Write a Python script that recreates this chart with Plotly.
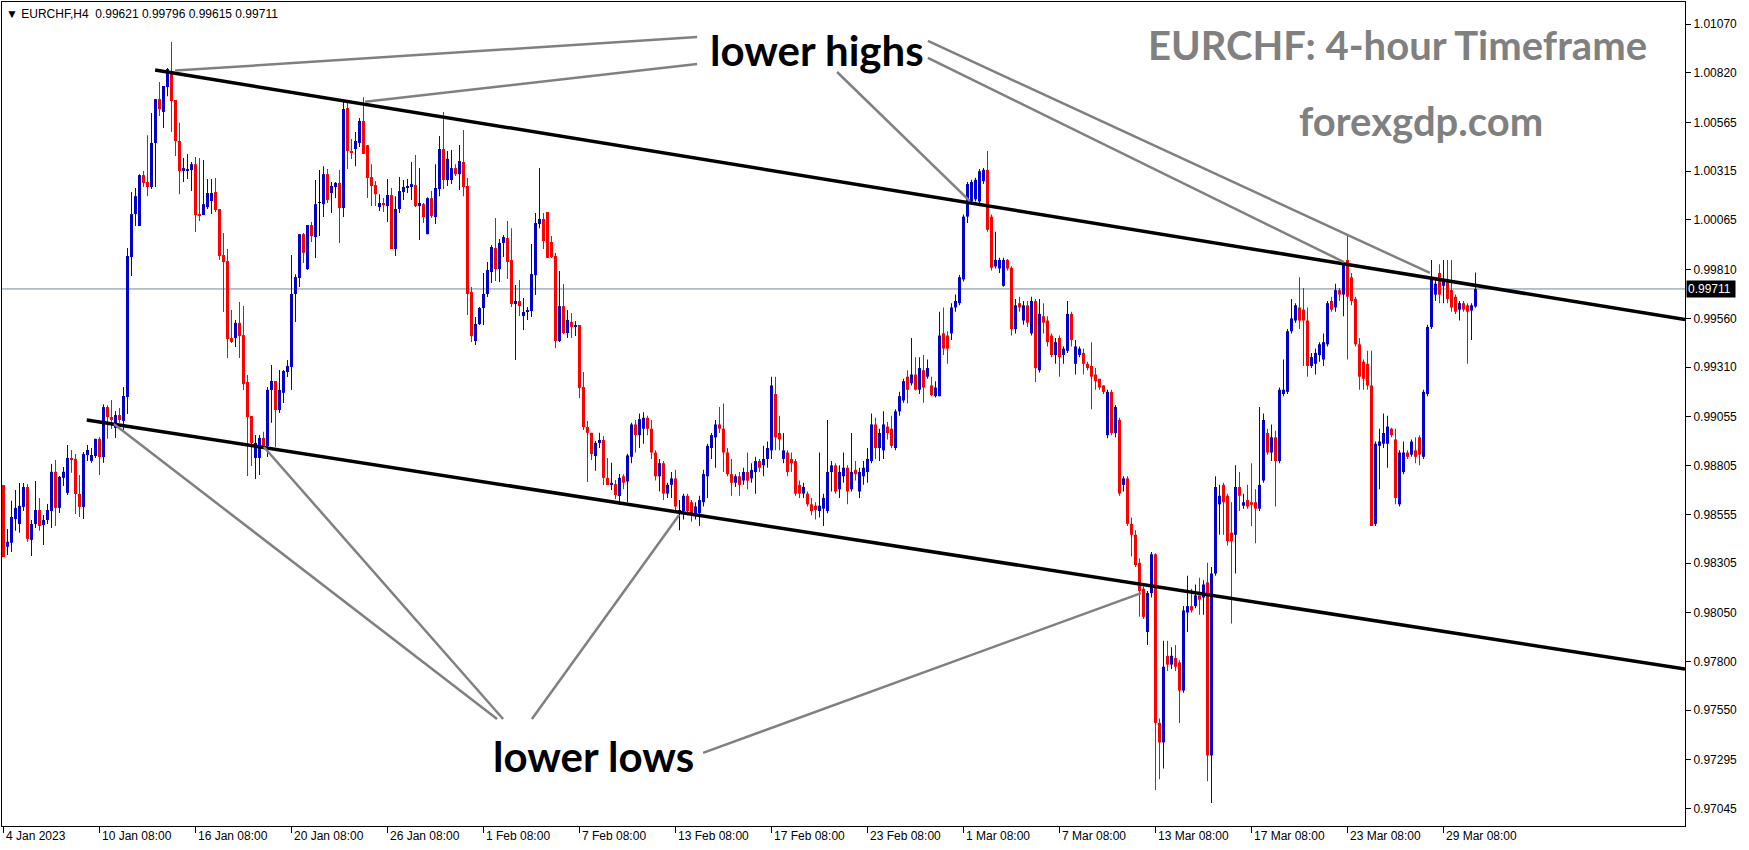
import plotly.graph_objects as go
import pandas as pd

# ---------------- data (EURCHF H4) ----------------
opens = [0.98705,0.98388,0.98409,0.98531,0.98505,0.98593,0.98695,0.98424,0.98505,0.98577,
0.98500,0.98526,0.98572,0.98773,0.98588,0.98742,0.98665,0.98844,0.98839,0.98659,
0.98593,0.98859,0.98829,0.98854,0.98942,0.98849,0.99105,0.99054,0.98998,0.99064,
0.99034,0.99157,0.99875,1.00095,1.00034,1.00295,1.00260,1.00234,1.00460,1.00685,
1.00619,1.00747,1.00819,1.00680,1.00470,1.00316,1.00321,1.00321,1.00351,1.00095,
1.00090,1.00131,1.00162,1.00208,1.00121,0.99885,0.99854,0.99459,0.99459,0.99537,
0.99474,0.99234,0.99059,0.98844,0.98844,0.98947,0.98905,0.99193,0.99239,0.99090,
0.99178,0.99285,0.99311,0.99685,0.99767,0.99992,0.99813,1.00039,0.99977,1.00152,
1.00146,1.00300,1.00203,1.00234,1.00255,1.00126,1.00639,1.00419,1.00429,1.00460,
1.00573,1.00449,1.00285,1.00244,1.00131,1.00152,1.00136,1.00193,0.99916,1.00121,
1.00208,1.00229,1.00234,1.00244,1.00136,1.00146,0.99992,1.00177,1.00080,1.00224,
1.00429,1.00270,1.00270,1.00331,1.00300,1.00362,1.00239,0.99696,0.99444,0.99531,
0.99613,0.99685,0.99798,0.99921,0.99813,0.99947,0.99972,0.99859,0.99634,0.99649,
0.99572,0.99593,0.99598,0.99782,1.00044,1.00070,1.00106,0.99952,0.99880,0.99444,
0.99623,0.99485,0.99542,0.99516,0.99526,0.99208,0.99003,0.98973,0.98854,0.98921,
0.98936,0.98742,0.98705,0.98710,0.98649,
0.98750,0.98723,0.98850,0.99016,0.98961,0.98994,0.99050,0.98994,0.98872,0.98750,
0.98817,0.98661,0.98706,0.98739,0.98572,0.98572,0.98650,0.98617,0.98550,0.98561,
0.98617,0.98750,0.98895,0.98950,0.99016,0.98994,0.98872,0.98761,0.98717,0.98750,
0.98728,0.98772,0.98739,0.98772,0.98828,0.98806,0.98839,0.98883,0.99172,0.98972,
0.98839,0.98872,0.98839,0.98828,0.98706,0.98661,0.98661,0.98606,0.98599,0.98572,
0.98584,0.98572,0.98772,0.98806,0.98683,0.98750,0.98794,0.98683,0.98783,0.98672,
0.98750,0.98772,0.98828,0.99016,0.98895,0.98883,0.99005,0.98994,0.98895,0.99083,
0.99139,0.99261,0.99227,0.99272,0.99194,0.99294,0.99261,0.99216,0.99161,0.99161,
0.99483,0.99472,0.99483,0.99616,0.99638,0.99760,1.00082,1.00160,1.00171,1.00160,
1.00264,1.00322,1.00082,0.99827,0.99816,0.99727,0.99860,0.99820,0.99505,0.99638,
0.99549,0.99627,0.99483,0.99649,0.99294,0.99571,0.99549,0.99472,0.99372,0.99460,
0.99372,0.99394,0.99583,0.99327,0.99372,0.99383,0.99327,0.99316,0.99272,0.99250,
0.99216,0.98961,0.99183,0.98972,0.99039,0.98706,0.98739,0.98506,0.98450,0.98306,
0.98173,0.97951,0.98151,0.98350,0.97485,0.97385,0.97829,0.97784,0.97818,0.97795,
0.97651,0.98051,0.98084,0.98084,0.98139,0.98128,0.98206,0.97318,0.98251,0.98606,
0.98706,0.98650,0.98461,0.98450,0.98695,0.98599,0.98628,0.98617,0.98617,0.98584,
0.98728,0.98972,0.98872,0.98950,0.98828,0.99172,0.99183,0.99494,0.99549,0.99616,
0.99605,0.99549,0.99316,0.99327,0.99372,0.99349,0.99427,0.99649,0.99616,0.99705,
0.99682,0.99860,0.99771,0.99660,0.99427,0.99338,0.99327,0.99216,0.98506,0.98906,
0.98917,0.98917,0.98994,0.98939,0.98606,0.98772,0.98872,0.98861,0.98883,0.98950,
0.98850,0.99172,0.99516,0.99682,0.99793,0.99727,0.99760,0.99705,0.99671,0.99605,
0.99638,0.99627,0.99600,0.99621]
highs = [0.98705,0.98480,0.98624,0.98680,0.98716,0.98716,0.98710,0.98526,0.98726,0.98639,
0.98551,0.98608,0.98813,0.98834,0.98752,0.98798,0.98910,0.98885,0.98864,0.98757,
0.98875,0.98910,0.98895,0.98942,0.98952,0.99120,0.99115,0.99141,0.99085,0.99100,
0.99208,0.99921,1.00208,1.00229,1.00300,1.00316,1.00500,1.00614,1.00685,1.00773,
1.00752,1.00844,1.00978,1.00680,1.00563,1.00383,1.00403,1.00362,1.00388,1.00383,
1.00372,1.00275,1.00275,1.00280,1.00121,0.99998,0.99916,0.99603,0.99552,0.99644,
0.99623,0.99269,0.99059,0.98962,0.98962,0.98978,0.99208,0.99321,0.99239,0.99295,
0.99295,0.99347,0.99885,0.99787,0.99992,0.99998,1.00039,1.00055,1.00270,1.00321,
1.00341,1.00326,1.00260,1.00260,1.00321,1.00680,1.00670,1.00480,1.00516,1.00588,
1.00695,1.00449,1.00351,1.00265,1.00197,1.00177,1.00275,1.00229,1.00187,1.00285,
1.00270,1.00275,1.00362,1.00398,1.00331,1.00152,1.00182,1.00213,1.00351,1.00495,
1.00619,1.00419,1.00424,1.00351,1.00449,1.00526,1.00280,0.99721,0.99567,0.99618,
0.99793,0.99849,0.99936,1.00075,0.99967,0.99988,1.00060,1.00023,0.99731,0.99757,
0.99665,0.99618,0.99941,1.00100,1.00331,1.00100,1.00106,0.99982,0.99895,0.99803,
0.99736,0.99603,0.99588,0.99547,0.99526,0.99285,0.99034,0.98973,0.98931,0.98973,
0.98957,0.98844,0.98819,0.98731,0.98762,
0.98761,0.98865,0.99025,0.99039,0.99072,0.99079,0.99061,0.99039,0.98883,0.98839,
0.98828,0.98717,0.98772,0.98783,0.98628,0.98661,0.98661,0.98628,0.98617,0.98650,
0.98783,0.98917,0.98972,0.99039,0.99105,0.99123,0.98895,0.98839,0.98761,0.98772,
0.98794,0.98872,0.98817,0.98850,0.98839,0.98906,0.98928,0.99261,0.99261,0.99061,
0.98972,0.98883,0.98872,0.98839,0.98728,0.98717,0.98672,0.98639,0.98617,0.98872,
0.98661,0.99039,0.98828,0.98817,0.98806,0.98872,0.98806,0.98972,0.98828,0.98794,
0.98828,0.98895,0.99072,0.99050,0.98994,0.99083,0.99028,0.99061,0.99094,0.99183,
0.99250,0.99294,0.99460,0.99361,0.99361,0.99372,0.99349,0.99261,0.99238,0.99594,
0.99616,0.99494,0.99638,0.99682,0.99782,1.00093,1.00260,1.00271,1.00282,1.00326,
1.00331,1.00419,1.00093,1.00004,0.99871,0.99871,0.99864,0.99827,0.99660,0.99671,
0.99649,0.99649,0.99671,0.99660,0.99660,0.99638,0.99571,0.99483,0.99460,0.99472,
0.99416,0.99649,0.99594,0.99449,0.99416,0.99405,0.99338,0.99438,0.99305,0.99250,
0.99216,0.99194,0.99194,0.99116,0.99050,0.98750,0.98750,0.98539,0.98473,0.98328,
0.98184,0.98162,0.98362,0.98355,0.97507,0.97906,0.97906,0.97873,0.97884,0.97806,
0.98084,0.98240,0.98173,0.98195,0.98229,0.98217,0.98306,0.98284,0.98750,0.98706,
0.98717,0.98661,0.98617,0.98806,0.98772,0.98661,0.98706,0.98817,0.98683,0.99105,
0.99072,0.98994,0.99016,0.98983,0.99205,0.99349,0.99505,0.99660,0.99638,0.99771,
0.99716,0.99616,0.99383,0.99405,0.99438,0.99483,0.99649,0.99671,0.99738,0.99716,
0.99849,0.99982,0.99793,0.99671,0.99460,0.99349,0.99394,0.99394,0.98928,0.98994,
0.99072,0.99061,0.98999,0.98994,0.98883,0.98928,0.98883,0.98939,0.98950,0.98961,
0.99194,0.99527,0.99860,0.99771,0.99838,0.99860,0.99860,0.99860,0.99682,0.99649,
0.99649,0.99638,0.99638,0.99796]
lows = [0.98336,0.98346,0.98362,0.98470,0.98460,0.98572,0.98414,0.98341,0.98485,0.98470,
0.98398,0.98505,0.98485,0.98495,0.98562,0.98700,0.98654,0.98768,0.98556,0.98541,
0.98531,0.98829,0.98819,0.98844,0.98757,0.98819,0.98942,0.98993,0.98947,0.99024,
0.98988,0.99069,0.99777,1.00034,1.00034,1.00234,1.00187,1.00224,1.00234,1.00598,
1.00537,1.00700,1.00516,1.00393,1.00197,1.00260,1.00275,1.00213,1.00003,1.00060,
1.00090,1.00121,1.00095,1.00106,0.99859,0.99593,0.99357,0.99434,0.99413,0.99357,
0.99193,0.98752,0.98803,0.98736,0.98757,0.98895,0.98849,0.99024,0.98900,0.99075,
0.99126,0.99259,0.99193,0.99542,0.99721,0.99844,0.99808,0.99952,0.99870,0.99982,
1.00080,1.00152,1.00100,1.00177,0.99947,1.00080,1.00326,1.00378,1.00341,1.00439,
1.00403,1.00177,1.00136,1.00136,1.00111,1.00106,1.00055,0.99916,0.99880,1.00100,
1.00167,1.00203,1.00167,1.00131,0.99962,1.00049,0.99992,1.00075,1.00044,1.00187,
1.00224,1.00239,1.00249,1.00290,1.00218,1.00187,0.99577,0.99439,0.99423,0.99526,
0.99526,0.99670,0.99742,0.99752,0.99747,0.99875,0.99762,0.99618,0.99347,0.99572,
0.99500,0.99552,0.99567,0.99680,1.00023,0.99916,0.99870,0.99870,0.99408,0.99439,
0.99480,0.99459,0.99459,0.99469,0.99152,0.98988,0.98721,0.98834,0.98778,0.98895,
0.98705,0.98705,0.98680,0.98634,0.98603,
0.98683,0.98617,0.98817,0.98872,0.98895,0.98917,0.98961,0.98839,0.98728,0.98672,
0.98628,0.98639,0.98639,0.98572,0.98473,0.98528,0.98550,0.98517,0.98528,0.98495,
0.98595,0.98639,0.98839,0.98794,0.98972,0.98772,0.98750,0.98650,0.98695,0.98650,
0.98706,0.98683,0.98717,0.98661,0.98772,0.98750,0.98794,0.98839,0.98883,0.98883,
0.98817,0.98750,0.98772,0.98650,0.98639,0.98639,0.98595,0.98550,0.98528,0.98539,
0.98495,0.98561,0.98672,0.98661,0.98639,0.98717,0.98606,0.98672,0.98728,0.98639,
0.98706,0.98717,0.98817,0.98839,0.98828,0.98839,0.98939,0.98895,0.98883,0.99061,
0.99127,0.99123,0.99216,0.99190,0.99172,0.99127,0.99250,0.99161,0.99154,0.99161,
0.99372,0.99327,0.99449,0.99594,0.99627,0.99749,1.00049,1.00149,1.00160,1.00149,
1.00249,1.00004,0.99805,0.99816,0.99793,0.99722,0.99805,0.99472,0.99483,0.99594,
0.99527,0.99516,0.99472,0.99234,0.99283,0.99483,0.99416,0.99361,0.99327,0.99261,
0.99327,0.99383,0.99416,0.99272,0.99361,0.99272,0.99294,0.99094,0.99194,0.99194,
0.99172,0.98945,0.98961,0.98950,0.98650,0.98672,0.98495,0.98339,0.98284,0.98029,
0.98018,0.97884,0.98128,0.97141,0.97196,0.97251,0.97751,0.97762,0.97751,0.97485,
0.97640,0.97951,0.98051,0.98073,0.98040,0.98040,0.97185,0.97074,0.98240,0.98450,
0.98450,0.98395,0.97995,0.98251,0.98572,0.98584,0.98584,0.98495,0.98406,0.98572,
0.98717,0.98861,0.98828,0.98595,0.98817,0.99161,0.99172,0.99483,0.99538,0.99505,
0.99316,0.99261,0.99305,0.99272,0.99338,0.99316,0.99416,0.99594,0.99594,0.99649,
0.99571,0.99349,0.99627,0.99416,0.99194,0.99194,0.99194,0.98495,0.98495,0.98683,
0.98895,0.98794,0.98950,0.98606,0.98595,0.98761,0.98839,0.98850,0.98817,0.98806,
0.98839,0.99161,0.99505,0.99649,0.99638,0.99638,0.99638,0.99594,0.99583,0.99549,
0.99594,0.99327,0.99449,0.99615]
closes = [0.98336,0.98414,0.98541,0.98588,0.98598,0.98695,0.98429,0.98505,0.98577,0.98495,
0.98526,0.98577,0.98773,0.98588,0.98747,0.98773,0.98844,0.98834,0.98659,0.98593,
0.98864,0.98885,0.98859,0.98942,0.98849,0.99105,0.99054,0.99039,0.99064,0.99039,
0.99162,0.99880,1.00095,1.00187,1.00295,1.00255,1.00234,1.00460,1.00685,1.00634,
1.00752,1.00839,1.00675,1.00470,1.00316,1.00331,1.00326,1.00351,1.00090,1.00090,
1.00146,1.00203,1.00203,1.00116,0.99880,0.99849,0.99454,0.99439,0.99537,0.99469,
0.99223,0.99054,0.98921,0.98921,0.98947,0.98905,0.99193,0.99239,0.99090,0.99193,
0.99290,0.99316,0.99685,0.99772,0.99992,0.99896,1.00039,0.99982,1.00146,1.00152,
1.00300,1.00167,1.00239,1.00255,1.00126,1.00634,1.00419,1.00409,1.00470,1.00573,
1.00403,1.00280,1.00239,1.00197,1.00152,1.00141,1.00193,0.99916,1.00121,1.00213,
1.00234,1.00239,1.00249,1.00136,1.00152,1.00080,1.00177,1.00085,1.00229,1.00429,
1.00270,1.00378,1.00331,1.00300,1.00367,1.00234,0.99685,0.99469,0.99531,0.99613,
0.99685,0.99808,0.99926,0.99813,0.99947,0.99977,0.99849,0.99634,0.99649,0.99623,
0.99593,0.99603,0.99787,1.00049,1.00070,0.99957,0.99870,0.99875,0.99444,0.99623,
0.99485,0.99552,0.99516,0.99526,0.99203,0.99003,0.98973,0.98864,0.98921,0.98936,
0.98742,0.98705,0.98716,0.98654,0.98742,
0.98717,0.98857,0.99016,0.98961,0.99043,0.99050,0.98994,0.98872,0.98750,0.98817,
0.98661,0.98706,0.98739,0.98595,0.98572,0.98650,0.98572,0.98550,0.98595,0.98628,
0.98761,0.98906,0.98961,0.99016,0.98994,0.98872,0.98761,0.98717,0.98750,0.98706,
0.98772,0.98728,0.98783,0.98828,0.98794,0.98839,0.98895,0.99216,0.98950,0.98939,
0.98883,0.98772,0.98817,0.98661,0.98661,0.98695,0.98606,0.98572,0.98577,0.98599,
0.98639,0.98772,0.98806,0.98672,0.98772,0.98794,0.98672,0.98772,0.98761,0.98772,
0.98794,0.98839,0.99016,0.98895,0.98972,0.99016,0.98972,0.98906,0.99083,0.99161,
0.99238,0.99194,0.99272,0.99194,0.99305,0.99205,0.99305,0.99167,0.99205,0.99472,
0.99405,0.99405,0.99616,0.99649,0.99771,1.00082,1.00249,1.00260,1.00271,1.00315,
1.00322,1.00015,0.99820,0.99860,0.99860,0.99860,0.99816,0.99505,0.99627,0.99616,
0.99627,0.99538,0.99649,0.99305,0.99583,0.99538,0.99438,0.99372,0.99438,0.99361,
0.99405,0.99583,0.99449,0.99416,0.99405,0.99327,0.99305,0.99261,0.99238,0.99205,
0.99183,0.99183,0.98972,0.99105,0.98661,0.98739,0.98506,0.98450,0.98295,0.98162,
0.98029,0.98151,0.98350,0.97485,0.97385,0.97773,0.97784,0.97829,0.97773,0.97651,
0.98062,0.98084,0.98062,0.98139,0.98117,0.98195,0.97318,0.98251,0.98695,0.98650,
0.98617,0.98417,0.98417,0.98695,0.98650,0.98617,0.98595,0.98604,0.98584,0.98706,
0.99039,0.98872,0.98950,0.98828,0.99194,0.99194,0.99494,0.99560,0.99627,0.99549,
0.99549,0.99316,0.99361,0.99383,0.99427,0.99438,0.99638,0.99605,0.99705,0.99682,
0.99838,0.99671,0.99649,0.99427,0.99261,0.99250,0.99216,0.98495,0.98917,0.98928,
0.98972,0.99005,0.98961,0.98639,0.98872,0.98872,0.98850,0.98928,0.98850,0.98861,
0.99183,0.99516,0.99771,0.99738,0.99682,0.99760,0.99660,0.99616,0.99594,0.99638,
0.99605,0.99594,0.99627,0.99711]

first_bar_time = "2023-01-04 08:00"
tick_times = ["2023-01-04 08:00","2023-01-10 08:00","2023-01-16 08:00","2023-01-20 08:00",
              "2023-01-26 08:00","2023-02-01 08:00","2023-02-07 08:00","2023-02-13 08:00",
              "2023-02-17 08:00","2023-02-23 08:00","2023-03-01 08:00","2023-03-07 08:00",
              "2023-03-13 08:00","2023-03-17 08:00","2023-03-23 08:00","2023-03-29 08:00"]
tick_labels = ["4 Jan 2023","10 Jan 08:00","16 Jan 08:00","20 Jan 08:00","26 Jan 08:00",
               "1 Feb 08:00","7 Feb 08:00","13 Feb 08:00","17 Feb 08:00","23 Feb 08:00",
               "1 Mar 08:00","7 Mar 08:00","13 Mar 08:00","17 Mar 08:00","23 Mar 08:00",
               "29 Mar 08:00"]
price_ticks = [1.01070,1.00820,1.00565,1.00315,1.00065,0.99810,0.99560,0.99310,0.99055,
               0.98805,0.98555,0.98305,0.98050,0.97800,0.97550,0.97295,0.97045]
last_price = 0.99711
header = "\u25BC EURCHF,H4  0.99621 0.99796 0.99615 0.99711"

# channel lines (bar index, price)
upper_channel = [(37.9, 1.00834), (420.4, 0.99554)]
lower_channel = [(20.8, 0.99039), (420.4, 0.97761)]
# pointer lines (bar index, price)
pointer_lines = [
    [(42.9, 1.00831), (173.4, 1.01003)],
    [(90.4, 1.00671), (173.4, 1.00865)],
    [(208.4, 1.00824), (241.6, 1.00162)],
    [(231.1, 1.00983), (356.6, 0.99793)],
    [(231.1, 1.00896), (335.1, 0.99849)],
    [(27.6, 0.99018), (123.4, 0.97505)],
    [(65.1, 0.98900), (124.9, 0.97505)],
    [(168.9, 0.98551), (132.1, 0.97505)],
    [(284.4, 0.98151), (174.9, 0.97331)],
]
labels = [
    ("lower highs", 203.4, 1.00937),
    ("lower lows", 147.6, 0.97315),
]
titles = [
    ("EURCHF: 4-hour Timeframe", 348.4, 1.00964),
    ("forexgdp.com", 354.4, 1.00575),
]

# ---------------- build ----------------
n = len(closes)
bar_times = []
ts = pd.Timestamp(first_bar_time)
while len(bar_times) < n + 200:
    if ts.dayofweek < 5:
        bar_times.append(ts.strftime("%Y-%m-%d %H:%M"))
    ts += pd.Timedelta(hours=4)
time_to_idx = {s: i for i, s in enumerate(bar_times)}
xs = list(range(n))

UP, DN, DOJI = "#0000CD", "#FF0000", "#000000"
cols = [UP if c > o else (DN if c < o else DOJI) for o, c in zip(opens, closes)]
body_base = [min(o, c) for o, c in zip(opens, closes)]
body_h = [max(abs(c - o), 0.00004) for o, c in zip(opens, closes)]
wick_h = [h - l for h, l in zip(highs, lows)]

fig = go.Figure()
fig.add_trace(go.Bar(x=xs, y=wick_h, base=lows, width=0.25,
                     marker=dict(color=cols, line=dict(width=0)), hoverinfo="skip"))
fig.add_trace(go.Bar(x=xs, y=body_h, base=body_base, width=0.75,
                     marker=dict(color=cols, line=dict(width=0)), hoverinfo="skip"))

for (x0, y0), (x1, y1) in [upper_channel, lower_channel]:
    fig.add_trace(go.Scatter(x=[x0, x1], y=[y0, y1], mode="lines",
                             line=dict(color="black", width=3.5), hoverinfo="skip"))
for (x0, y0), (x1, y1) in pointer_lines:
    fig.add_trace(go.Scatter(x=[x0, x1], y=[y0, y1], mode="lines",
                             line=dict(color="#808080", width=2.5), hoverinfo="skip"))

fig.add_shape(type="line", xref="paper", x0=0, x1=1, yref="y", y0=last_price, y1=last_price,
              line=dict(color="#778899", width=1), layer="below")

ann = []
for txt, x, y in labels:
    ann.append(dict(x=x, y=y, xref="x", yref="y", text="<b>%s</b>" % txt, showarrow=False,
                    font=dict(family="Lato", size=42, color="black")))
for txt, x, y in titles:
    ann.append(dict(x=x, y=y, xref="x", yref="y", text="<b>%s</b>" % txt, showarrow=False,
                    font=dict(family="Lato", size=40, color="#808080")))
ann.append(dict(x=0, y=1, xref="paper", yref="paper", xanchor="left", yanchor="top",
                xshift=2, yshift=-3, text=header, showarrow=False,
                font=dict(family="Liberation Sans", size=12, color="black")))
ann.append(dict(x=1, y=last_price, xref="paper", yref="y", xanchor="left", yanchor="middle",
                xshift=1, text="%.5f " % last_price, showarrow=False, bgcolor="black",
                borderpad=1, font=dict(family="Liberation Sans", size=12, color="white")))
tick_idx = [time_to_idx[s] for s in tick_times]
for i, lab in zip(tick_idx, tick_labels):
    ann.append(dict(x=i, y=0, xref="x", yref="paper", xanchor="left", yanchor="top",
                    xshift=0, yshift=-1, text=lab, showarrow=False,
                    font=dict(family="Liberation Sans", size=12, color="black")))

fig.update_layout(
    width=1749, height=850, showlegend=False, barmode="overlay",
    margin=dict(l=2, r=64, t=2, b=24, autoexpand=False),
    paper_bgcolor="white", plot_bgcolor="white",
    annotations=ann,
    xaxis=dict(range=[-0.375, -0.375 + 1683 / 4], showgrid=False, zeroline=False,
               showline=True, linecolor="black", linewidth=1, mirror=True,
               ticks="outside", ticklen=6, tickcolor="black", tickvals=tick_idx,
               showticklabels=False, automargin=False),
    yaxis=dict(range=[0.96956, 1.01183], side="right", showgrid=False, zeroline=False,
               showline=True, linecolor="black", linewidth=1, mirror=True,
               ticks="outside", ticklen=5, tickcolor="black", tickvals=price_ticks,
               ticktext=["%.5f" % v for v in price_ticks], automargin=False,
               tickfont=dict(family="Liberation Sans", size=12, color="black")),
)
fig.write_html("out.html", config={"displayModeBar": False},
               post_script="document.body.style.margin='0';document.body.style.overflow='hidden';")
